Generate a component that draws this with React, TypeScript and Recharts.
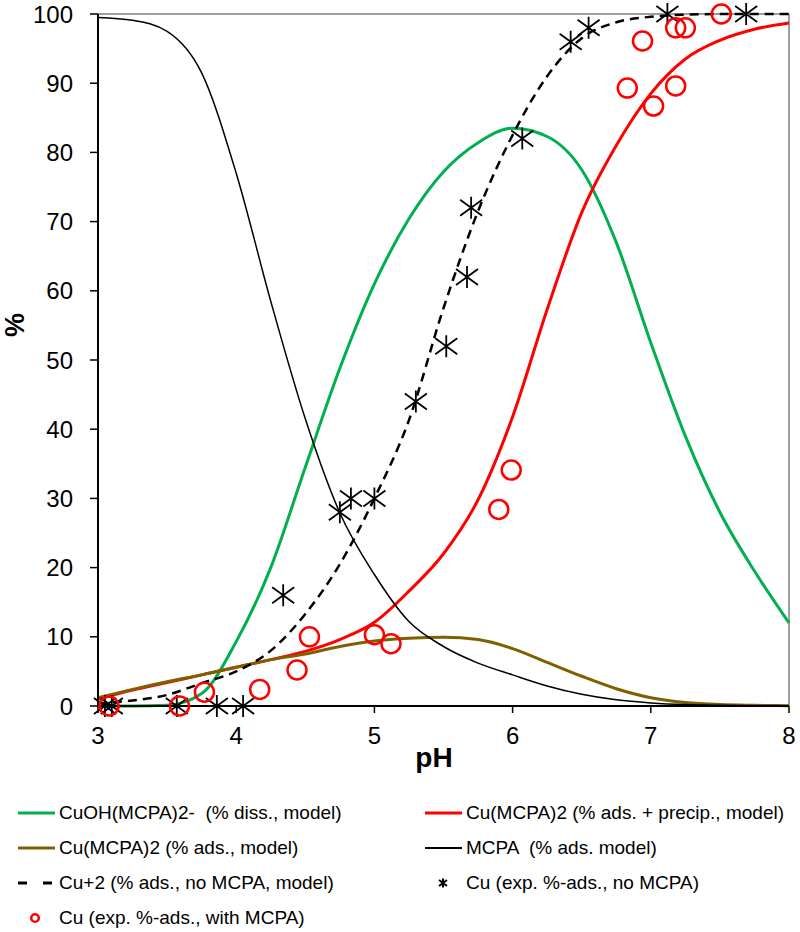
import React from 'react';
import { ComposedChart, Line, Scatter, XAxis, YAxis, ReferenceLine, Label } from 'recharts';

// model curves, read on a 0.25 pH grid
const PH_GRID = [3, 3.25, 3.5, 3.75, 4, 4.25, 4.5, 4.75, 5, 5.25, 5.5, 5.75, 6, 6.25, 6.5, 6.75, 7, 7.25, 7.5, 7.75, 8];
const CUOH_DISS = [0, 0, 0.1, 1.8, 9.3, 20, 34.5, 48.8, 61, 70.4, 77.2, 81.4, 83.5, 82.3, 77.5, 67, 52.5, 39, 28, 19.5, 12];
const CU_ADS_PRECIP = [1, 2.3, 3.4, 4.5, 5.6, 6.7, 7.9, 9.6, 12.1, 16.6, 22, 29.8, 41.8, 57.3, 71.3, 81, 88.5, 93.5, 96.2, 97.8, 98.7];
const CU_ADS = [1.2, 2.4, 3.5, 4.5, 5.6, 6.7, 7.5, 8.6, 9.4, 9.8, 9.95, 9.6, 8.3, 6.3, 4.3, 2.5, 1.2, 0.5, 0.2, 0.1, 0.05];
const MCPA_ADS = [99.5, 99.1, 97.5, 91.5, 77, 58.5, 41.5, 27.9, 19, 12.2, 8.6, 6.2, 4.5, 2.9, 1.7, 0.9, 0.45, 0.2, 0.1, 0.05, 0];
const CU2_NO_MCPA = [0.4, 0.8, 1.6, 3.3, 5, 8, 13.3, 20.5, 30, 41.3, 57.5, 71.5, 82.5, 91, 96.5, 98.8, 99.6, 99.9, 100, 100, 100];

// experimental points
const STAR_PH = [3.05, 3.1, 3.57, 3.86, 4.05, 4.34, 4.75, 4.83, 5.0, 5.3, 5.52, 5.67, 5.7, 6.07, 6.42, 6.55, 7.12, 7.69];
const STAR_PCT = [0, 0, 0, 0, 0, 16, 28, 30, 30, 44, 52, 62, 72, 82, 96, 98, 100, 100];
const CIRCLE_PH = [3.08, 3.59, 3.77, 4.17, 4.44, 4.53, 5.0, 5.12, 5.9, 5.99, 6.83, 6.94, 7.02, 7.18, 7.18, 7.25, 7.51];
const CIRCLE_PCT = [0, 0, 2, 2.4, 5.2, 10, 10.3, 9, 28.4, 34.1, 89.3, 96.1, 86.7, 89.6, 98, 98, 100];

const X_TICKS = [3, 4, 5, 6, 7, 8];
const Y_TICKS = [0, 10, 20, 30, 40, 50, 60, 70, 80, 90, 100];

const curves = PH_GRID.map((ph, i) => ({
  ph,
  green: CUOH_DISS[i],
  red: CU_ADS_PRECIP[i],
  brown: CU_ADS[i],
  black: MCPA_ADS[i],
  dashed: CU2_NO_MCPA[i],
}));
const stars = STAR_PH.map((ph, i) => ({ ph, pct: STAR_PCT[i] }));
const circles = CIRCLE_PH.map((ph, i) => ({ ph, pct: CIRCLE_PCT[i] }));

const FONT = "'Liberation Sans', Arial, sans-serif";

const Star = (props: any) => {
  const { cx, cy } = props;
  return (
    <path
      d={`M${cx},${cy - 11} L${cx},${cy + 11} M${cx - 11},${cy - 8} L${cx + 11},${cy + 8} M${cx - 11},${cy + 8} L${cx + 11},${cy - 8}`}
      stroke="#000"
      strokeWidth={1.8}
      fill="none"
    />
  );
};

const Ring = (props: any) => {
  const { cx, cy } = props;
  return <circle cx={cx} cy={cy} r={9.5} stroke="#FF0000" strokeWidth={2.5} fill="none" />;
};

const legendLeft = [
  { kind: 'line', color: '#00B050', text: 'CuOH(MCPA)2-  (% diss., model)' },
  { kind: 'line', color: '#7F6000', text: 'Cu(MCPA)2 (% ads., model)' },
  { kind: 'dash', color: '#000', text: 'Cu+2 (% ads., no MCPA, model)' },
  { kind: 'ring', color: '#FF0000', text: 'Cu (exp. %-ads., with MCPA)' },
];
const legendRight = [
  { kind: 'line', color: '#FF0000', text: 'Cu(MCPA)2 (% ads. + precip., model)' },
  { kind: 'line', color: '#000', text: 'MCPA  (% ads. model)' },
  { kind: 'star', color: '#000', text: 'Cu (exp. %-ads., no MCPA)' },
];

function Swatch({ kind, color }: { kind: string; color: string }) {
  return (
    <svg width={38} height={12} style={{ display: 'block' }}>
      {kind === 'line' && <line x1={0} y1={6} x2={37} y2={6} stroke={color} strokeWidth={kind === 'line' && color === '#000' ? 2 : 3} />}
      {kind === 'dash' && <line x1={0} y1={6} x2={37} y2={6} stroke={color} strokeWidth={3} strokeDasharray="9 16" />}
      {kind === 'ring' && <circle cx={17} cy={6} r={3.8} stroke={color} strokeWidth={2.5} fill="none" />}
      {kind === 'star' && (
        <path d="M18,1.5 L18,10.5 M14,3 L22,9 M14,9 L22,3" stroke={color} strokeWidth={2} />
      )}
    </svg>
  );
}

function LegendCol({ items, left }: { items: any[]; left: number }) {
  return (
    <div style={{ position: 'absolute', left, top: 795 }}>
      {items.map((it) => (
        <div key={it.text} style={{ display: 'flex', alignItems: 'center', height: 35, gap: 3 }}>
          <Swatch kind={it.kind} color={it.color} />
          <span style={{ fontFamily: FONT, fontSize: 19, color: '#000', whiteSpace: 'pre', lineHeight: '35px' }}>{it.text}</span>
        </div>
      ))}
    </div>
  );
}

export default function App() {
  return (
    <div style={{ position: 'absolute', left: 0, top: 0, width: 800, height: 932, background: '#fff' }}>
      <ComposedChart
        width={800}
        height={780}
        data={curves}
        margin={{ top: 14, right: 11, left: 0, bottom: 0 }}
      >
        <XAxis
          dataKey="ph"
          type="number"
          domain={[3, 8]}
          ticks={X_TICKS}
          height={74}
          axisLine={{ stroke: '#000', strokeWidth: 2 }}
          tickLine={{ stroke: '#000', strokeWidth: 1.5 }}
          tickSize={7}
          tickMargin={14}
          tick={{ fontSize: 24, fill: '#000', fontFamily: FONT }}
        >
          <Label
            content={() => (
              <text x={434} y={767} textAnchor="middle" fontSize={28} fontWeight="bold" fill="#000" fontFamily={FONT}>
                pH
              </text>
            )}
          />
        </XAxis>
        <YAxis
          type="number"
          domain={[0, 100]}
          ticks={Y_TICKS}
          width={98}
          axisLine={{ stroke: '#000', strokeWidth: 2 }}
          tickLine={{ stroke: '#000', strokeWidth: 1.5 }}
          tickSize={8}
          tickMargin={17}
          tick={{ fontSize: 24, fill: '#000', fontFamily: FONT }}
        >
          <Label
            content={() => (
              <text
                x={15}
                y={325}
                transform="rotate(-90 15 325)"
                textAnchor="middle"
                dominantBaseline="central"
                fontSize={27}
                fontWeight="bold"
                fill="#000"
                fontFamily={FONT}
              >
                %
              </text>
            )}
          />
        </YAxis>
        <ReferenceLine y={100} stroke="#7f7f7f" strokeWidth={1.5} />
        <ReferenceLine x={8} stroke="#7f7f7f" strokeWidth={1.5} />
        <Line dataKey="green" type="monotone" stroke="#00B050" strokeWidth={3} dot={false} isAnimationActive={false} />
        <Line dataKey="red" type="monotone" stroke="#FF0000" strokeWidth={3} dot={false} isAnimationActive={false} />
        <Line dataKey="brown" type="monotone" stroke="#7F6000" strokeWidth={3} dot={false} isAnimationActive={false} />
        <Line dataKey="black" type="monotone" stroke="#000" strokeWidth={1.5} dot={false} isAnimationActive={false} />
        <Line dataKey="dashed" type="monotone" stroke="#000" strokeWidth={2.5} strokeDasharray="9 6" dot={false} isAnimationActive={false} />
        <Scatter data={stars} dataKey="pct" shape={<Star />} isAnimationActive={false} />
        <Scatter data={circles} dataKey="pct" shape={<Ring />} isAnimationActive={false} />
      </ComposedChart>
      <LegendCol items={legendLeft} left={18} />
      <LegendCol items={legendRight} left={425} />
    </div>
  );
}
